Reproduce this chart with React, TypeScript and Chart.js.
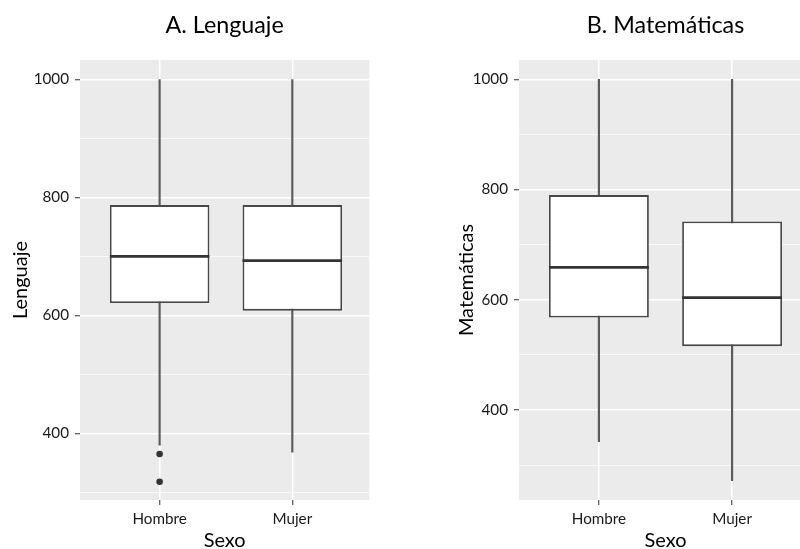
import React, { useEffect, useRef } from 'react';
import { Chart, registerables } from 'chart.js';

Chart.register(...registerables);

// ---------------- data ----------------
const SEXO = ['Hombre', 'Mujer'];

const LENG_MIN = [380, 368];
const LENG_Q1 = [621, 608];
const LENG_MED = [700, 693];
const LENG_Q3 = [787, 787];
const LENG_MAX = [1000, 1000];
const LENG_OUTLIERS_HOMBRE = [365, 318];
const LENG_OUTLIERS_MUJER: number[] = [];

const MAT_MIN = [343, 272];
const MAT_Q1 = [568, 516];
const MAT_MED = [659, 604];
const MAT_Q3 = [790, 742];
const MAT_MAX = [1000, 1000];
const MAT_OUTLIERS_HOMBRE: number[] = [];
const MAT_OUTLIERS_MUJER: number[] = [];

const Y_GRID = [300, 400, 500, 600, 700, 800, 900, 1000];
const Y_LABELED = [400, 600, 800, 1000];

// ---------------- text helpers ----------------
const FAMILY = 'Lato';
let mctx: CanvasRenderingContext2D | null = null;
function ctx2d() {
  if (!mctx) mctx = document.createElement('canvas').getContext('2d');
  return mctx as CanvasRenderingContext2D;
}
function fit(text: string, target: number) {
  const c = ctx2d();
  c.font = `100px ${FAMILY}`;
  c.textBaseline = 'alphabetic';
  return (100 * target) / c.measureText(text).width;
}
function baseBelowMiddle(size: number) {
  const c = ctx2d();
  c.font = `${size}px ${FAMILY}`;
  c.textBaseline = 'middle';
  const m = c.measureText('H');
  c.textBaseline = 'alphabetic';
  return m.actualBoundingBoxDescent;
}

const CANVAS_H = 549;
const AREA_TOP = 60;
const AREA_BOTTOM = 500;
const TICK_LEN = 5;

type Spec = {
  left: number;
  width: number;
  yAxisWidth: number;
  padRight: number;
  yMin: number;
  yMax: number;
  xMax: number;
  title: string;
  yTitle: string;
  yTitleBaseline: number;
  q1: number[];
  med: number[];
  q3: number[];
  lo: number[];
  hi: number[];
  outliers: number[][];
};

function BoxPanel({ spec }: { spec: Spec }) {
  const ref = useRef<HTMLCanvasElement>(null);
  useEffect(() => {
    const titleSize = (fit('A. Lenguaje', 118) + fit('B. Matemáticas', 158)) / 2;
    const tickSize = (fit('Hombre', 56.7) + fit('Mujer', 41.7) + fit('1000', 32)) / 3;
    const axisSize = (fit('Lenguaje', 87) + fit('Sexo', 38) + fit('Matemáticas', 110)) / 3;

    const titlePadTop = 33.3 - baseBelowMiddle(titleSize) - titleSize / 2;
    const yTitlePad = spec.yTitleBaseline - baseBelowMiddle(axisSize) - axisSize / 2;
    const xTickPad = 524 - baseBelowMiddle(tickSize) - tickSize / 2 - TICK_LEN - AREA_BOTTOM;
    const xTitlePadBottom = CANVAS_H - axisSize / 2 - (547.3 - baseBelowMiddle(axisSize));

    const outlierPoints: { x: number; y: number }[] = [];
    spec.outliers.forEach((vals, i) => vals.forEach((v) => outlierPoints.push({ x: i + 1, y: v })));

    const bgPlugin = {
      id: 'panelBg',
      beforeDraw(chart: any) {
        const { ctx, chartArea } = chart;
        ctx.save();
        ctx.fillStyle = '#EBEBEB';
        ctx.fillRect(chartArea.left, chartArea.top, chartArea.right - chartArea.left, chartArea.bottom - chartArea.top);
        ctx.restore();
      },
    };
    const medianPlugin = {
      id: 'medianLines',
      afterDatasetsDraw(chart: any) {
        const meta = chart.getDatasetMeta(1);
        const yScale = chart.scales.y;
        const { ctx } = chart;
        ctx.save();
        ctx.strokeStyle = '#333333';
        ctx.lineWidth = 2.8;
        meta.data.forEach((bar: any, i: number) => {
          const y = yScale.getPixelForValue(spec.med[i]);
          ctx.beginPath();
          ctx.moveTo(bar.x - bar.width / 2, y);
          ctx.lineTo(bar.x + bar.width / 2, y);
          ctx.stroke();
        });
        ctx.restore();
      },
    };

    const chart = new Chart(ref.current as HTMLCanvasElement, {
      type: 'bar',
      data: {
        datasets: [
          {
            type: 'scatter',
            data: outlierPoints,
            pointRadius: 3.3,
            pointHoverRadius: 3.3,
            backgroundColor: '#333333',
            borderWidth: 0,
          } as any,
          {
            data: SEXO.map((_, i) => ({ x: i + 1, y: [spec.q1[i], spec.q3[i]] })),
            backgroundColor: '#ffffff',
            borderColor: '#484848',
            borderWidth: 1.8,
            borderSkipped: false,
            barPercentage: 0.75,
            categoryPercentage: 1,
            grouped: false,
          } as any,
          {
            data: SEXO.map((_, i) => ({ x: i + 1, y: [spec.lo[i], spec.hi[i]] })),
            backgroundColor: '#5a5a5a',
            borderWidth: 0,
            barThickness: 1.5,
            grouped: false,
          } as any,
        ],
      },
      options: {
        responsive: false,
        animation: false,
        events: [],
        layout: { padding: { left: 0, right: spec.padRight, top: 0, bottom: 0 } },
        plugins: { legend: { display: false }, tooltip: { enabled: false }, title: { display: false } },
        scales: {
          x: {
            type: 'linear',
            position: 'bottom',
            offset: false,
            min: 0.4,
            max: spec.xMax,
            afterBuildTicks: (s: any) => {
              s.ticks = SEXO.map((_, i) => ({ value: i + 1 }));
            },
            afterFit: (s: any) => {
              s.height = CANVAS_H - AREA_BOTTOM;
            },
            ticks: {
              autoSkip: false,
              maxRotation: 0,
              padding: xTickPad,
              color: '#1a1a1a',
              font: { family: FAMILY, size: tickSize, lineHeight: 1 },
              callback: (v: any) => SEXO[Math.round(Number(v)) - 1] ?? '',
            },
            grid: {
              color: '#ffffff',
              lineWidth: 1.5,
              tickColor: '#333333',
              tickLength: TICK_LEN,
              tickWidth: 1,
              offset: false,
            },
            border: { display: false },
            title: {
              display: true,
              text: 'Sexo',
              color: '#000000',
              font: { family: FAMILY, size: axisSize, lineHeight: 1 },
              padding: { top: 0, bottom: xTitlePadBottom },
            },
          },
          xTop: {
            type: 'linear',
            position: 'top',
            offset: false,
            min: 0.4,
            max: spec.xMax,
            afterFit: (s: any) => {
              s.height = AREA_TOP;
            },
            ticks: { display: false },
            grid: { display: false },
            border: { display: false },
            title: {
              display: true,
              text: spec.title,
              color: '#000000',
              font: { family: FAMILY, size: titleSize, lineHeight: 1 },
              padding: { top: titlePadTop, bottom: 0 },
            },
          },
          y: {
            type: 'linear',
            min: spec.yMin,
            max: spec.yMax,
            afterBuildTicks: (s: any) => {
              s.ticks = Y_GRID.map((v) => ({ value: v }));
            },
            afterFit: (s: any) => {
              s.width = spec.yAxisWidth;
            },
            ticks: {
              padding: 6,
              color: '#1a1a1a',
              font: { family: FAMILY, size: tickSize, lineHeight: 1 },
              callback: (v: any) => (Y_LABELED.includes(Number(v)) ? String(v) : ''),
            },
            grid: {
              color: '#ffffff',
              lineWidth: (c: any) => (Y_LABELED.includes(c.tick?.value) ? 1.5 : 0.7),
              tickColor: (c: any) => (Y_LABELED.includes(c.tick?.value) ? '#333333' : 'rgba(0,0,0,0)'),
              tickLength: TICK_LEN,
              tickWidth: 1,
            },
            border: { display: false },
            title: {
              display: true,
              text: spec.yTitle,
              color: '#000000',
              font: { family: FAMILY, size: axisSize, lineHeight: 1 },
              padding: { top: yTitlePad, bottom: 0 },
            },
          },
        },
      } as any,
      plugins: [bgPlugin, medianPlugin],
    });
    return () => chart.destroy();
  }, [spec]);

  return (
    <canvas
      ref={ref}
      width={spec.width}
      height={CANVAS_H}
      style={{ position: 'absolute', left: spec.left, top: 0, width: spec.width, height: CANVAS_H }}
    />
  );
}

const LEFT_SPEC: Spec = {
  left: 0,
  width: 400,
  yAxisWidth: 80,
  padRight: 30.7,
  yMin: 287,
  yMax: 1033,
  xMax: 2.58,
  title: 'A. Lenguaje',
  yTitle: 'Lenguaje',
  yTitleBaseline: 26.7,
  q1: LENG_Q1,
  med: LENG_MED,
  q3: LENG_Q3,
  lo: LENG_MIN,
  hi: LENG_MAX,
  outliers: [LENG_OUTLIERS_HOMBRE, LENG_OUTLIERS_MUJER],
};

const RIGHT_SPEC: Spec = {
  left: 400,
  width: 412,
  yAxisWidth: 119,
  padRight: 0,
  yMin: 237,
  yMax: 1035,
  xMax: 2.6,
  title: 'B. Matemáticas',
  yTitle: 'Matemáticas',
  yTitleBaseline: 73.3,
  q1: MAT_Q1,
  med: MAT_MED,
  q3: MAT_Q3,
  lo: MAT_MIN,
  hi: MAT_MAX,
  outliers: [MAT_OUTLIERS_HOMBRE, MAT_OUTLIERS_MUJER],
};

export default function App() {
  return (
    <div
      style={{
        position: 'fixed',
        left: 0,
        top: 0,
        width: 800,
        height: CANVAS_H,
        overflow: 'hidden',
        background: '#ffffff',
      }}
    >
      <BoxPanel spec={LEFT_SPEC} />
      <BoxPanel spec={RIGHT_SPEC} />
    </div>
  );
}
